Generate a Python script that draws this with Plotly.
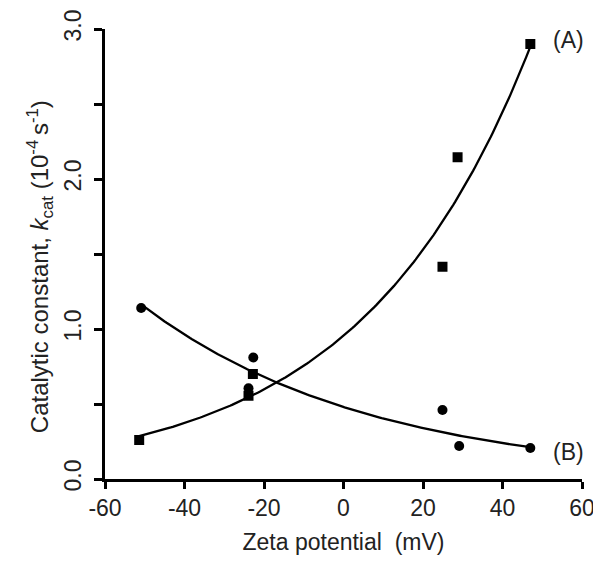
import numpy as np
import plotly.graph_objects as go

# Data
zeta_A = [-51.4, -23.9, -22.8, 24.9, 28.7, 47.0]
kcat_A = [0.26, 0.555, 0.70, 1.415, 2.145, 2.90]

zeta_B = [-50.9, -23.9, -22.7, 24.9, 29.1, 47.0]
kcat_B = [1.14, 0.605, 0.81, 0.46, 0.22, 0.207]

# Exponential trend lines (y = a * exp(b * x))
fit_A = {"a": 0.955, "b": 0.0235, "x0": -51.4, "x1": 47.5}
fit_B = {"a": 0.48, "b": -0.0174, "x0": -50.9, "x1": 47.0}

x_ticks = [-60, -40, -20, 0, 20, 40, 60]
x_ticktext = ["-60", "-40", "-20", "0", "20", "40", "60"]
y_ticks = [0.0, 0.5, 1.0, 1.5, 2.0, 2.5, 3.0]
y_ticktext = ["0.0", "", "1.0", "", "2.0", "", "3.0"]

FONT = "Liberation Sans, Arial, sans-serif"
FS = 23


def curve(p):
    xs = np.linspace(p["x0"], p["x1"], 200)
    return xs, p["a"] * np.exp(p["b"] * xs)


fig = go.Figure()
for p in (fit_A, fit_B):
    xs, ys = curve(p)
    fig.add_trace(go.Scatter(x=xs, y=ys, mode="lines",
                             line=dict(color="black", width=2.3),
                             showlegend=False, hoverinfo="skip"))

fig.add_trace(go.Scatter(x=zeta_A, y=kcat_A, mode="markers",
                         marker=dict(symbol="square", size=10, color="black"),
                         showlegend=False, cliponaxis=False))
fig.add_trace(go.Scatter(x=zeta_B, y=kcat_B, mode="markers",
                         marker=dict(symbol="circle", size=10, color="black"),
                         showlegend=False, cliponaxis=False))

fig.add_annotation(x=56.7, y=2.93, text="(A)", showarrow=False,
                   font=dict(family=FONT, size=23, color="#222"))
fig.add_annotation(x=56.5, y=0.18, text="(B)", showarrow=False,
                   font=dict(family=FONT, size=23, color="#222"))

# y-axis title placed as rotated text (sits slightly below the axis centre)
fig.add_annotation(
    xref="paper", yref="paper", x=-0.136, y=0.471,
    xanchor="center", yanchor="middle", textangle=-90, showarrow=False,
    text="Catalytic constant, <i>k</i><sub>cat</sub> (10<sup>-4 </sup>s<sup>-1</sup>)",
    font=dict(family=FONT, size=24, color="#222"))

# page body adds an 8px offset, so the figure is sized to compensate
fig.update_layout(
    width=593, height=559,
    margin=dict(l=97, r=19, t=21, b=88, autoexpand=False),
    paper_bgcolor="white", plot_bgcolor="white",
    font=dict(family=FONT, size=FS, color="#222"),
    xaxis=dict(range=[-60, 60], tickvals=x_ticks, ticktext=x_ticktext,
               showline=True, linecolor="black", linewidth=2.5,
               ticks="outside", ticklen=7, tickwidth=2.5, tickcolor="black",
               showgrid=False, zeroline=False, automargin=False,
               ticklabelstandoff=0,
               title=dict(text="Zeta potential  (mV)", standoff=14,
                          font=dict(size=23)),
               tickfont=dict(size=FS)),
    yaxis=dict(range=[0, 3.0], tickvals=y_ticks, ticktext=y_ticktext,
               showline=True, linecolor="black", linewidth=2.5,
               ticks="outside", ticklen=8, tickwidth=2.5, tickcolor="black",
               showgrid=False, zeroline=False, tickangle=-90,
               ticklabelstandoff=4, automargin=False,
               tickfont=dict(size=FS)),
)

fig.write_html("out.html")
